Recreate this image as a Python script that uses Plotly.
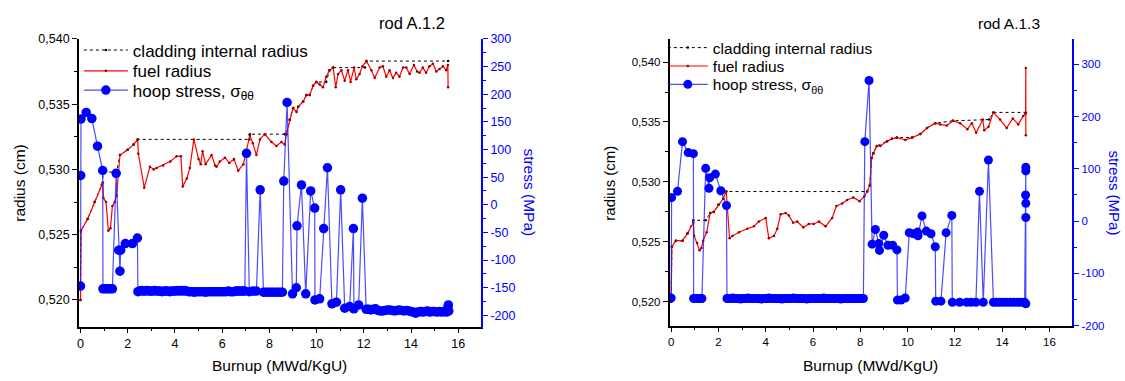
import plotly.graph_objects as go

# ---------------- DATA: rod A.1.2 (left) ----------------
a12_fuel_burnup = [0.00, 0.02, 0.30, 0.60, 0.95, 0.97, 1.08, 1.18, 1.27, 1.35, 1.45, 1.53, 1.67, 2.00, 2.25, 2.42,
                   2.45, 2.70, 2.94, 3.10, 3.22, 3.50, 3.80, 4.07, 4.25, 4.33, 4.50, 4.63, 4.80, 5.00, 5.09, 5.17,
                   5.30, 5.55, 5.70, 5.76, 5.90, 6.12, 6.30, 6.50, 6.68, 6.90, 7.03, 7.17, 7.30, 7.45, 7.60, 7.80,
                   8.09, 8.30, 8.51, 8.65, 8.72, 8.86, 9.00, 9.15, 9.22, 9.43, 9.57, 9.71, 9.85, 9.99, 10.13, 10.27,
                   10.41, 10.55, 10.70, 10.81, 10.91, 11.05, 11.19, 11.33, 11.44, 11.59, 11.68, 11.82, 11.94, 12.11,
                   12.32, 12.46, 12.67, 12.81, 12.95, 13.09, 13.23, 13.37, 13.51, 13.66, 13.80, 13.94, 14.12, 14.26,
                   14.36, 14.50, 14.64, 14.78, 14.93, 15.07, 15.21, 15.35, 15.49, 15.56, 15.57]
a12_fuel_radius = [0.5200, 0.5253, 0.5262, 0.5275, 0.5290, 0.5278, 0.5275, 0.5253, 0.5255, 0.5272, 0.5275, 0.5280,
                   0.5311, 0.5315, 0.5319, 0.5323, 0.5312, 0.5286, 0.5302, 0.5300, 0.5301, 0.5303, 0.5306, 0.5310,
                   0.5310, 0.5287, 0.5293, 0.5301, 0.5323, 0.5308, 0.5304, 0.5314, 0.5304, 0.5311, 0.5303, 0.5302,
                   0.5306, 0.5309, 0.5305, 0.5308, 0.5299, 0.5304, 0.5314, 0.5326, 0.5320, 0.5311, 0.5323, 0.5327,
                   0.5321, 0.5318, 0.5321, 0.5319, 0.5327, 0.5338, 0.5347, 0.5344, 0.5348, 0.5352, 0.5357, 0.5357,
                   0.5364, 0.5367, 0.5365, 0.5363, 0.5371, 0.5376, 0.5378, 0.5363, 0.5373, 0.5376, 0.5368, 0.5376,
                   0.5367, 0.5378, 0.5369, 0.5373, 0.5379, 0.5383, 0.5376, 0.5370, 0.5378, 0.5379, 0.5371, 0.5376,
                   0.5370, 0.5374, 0.5371, 0.5378, 0.5378, 0.5373, 0.5380, 0.5375, 0.5374, 0.5378, 0.5374, 0.5379,
                   0.5381, 0.5375, 0.5377, 0.5379, 0.5376, 0.5380, 0.5363]

a12_clad_burnup = [0.00, 0.02, 0.30, 0.60, 0.90, 0.97, 1.53, 1.67, 2.00, 2.25, 2.42, 7.15, 7.17, 8.65, 8.72, 8.86,
                   9.00, 9.22, 9.43, 9.57, 9.71, 9.85, 9.99, 10.41, 10.55, 10.70, 12.05, 12.11, 15.57]
a12_clad_radius = [0.5200, 0.5253, 0.5262, 0.5275, 0.5288, 0.5298, 0.5298, 0.5311, 0.5315, 0.5319, 0.5323, 0.5323,
                   0.5327, 0.5327, 0.5327, 0.5338, 0.5347, 0.5348, 0.5352, 0.5357, 0.5357, 0.5364, 0.5367, 0.5367,
                   0.5376, 0.5378, 0.5378, 0.5383, 0.5383]

a12_stress_burnup = [0.00, 0.01, 0.02, 0.24, 0.48, 0.72, 0.94, 0.95, 1.05, 1.15, 1.25, 1.35, 1.51, 1.62, 1.67, 1.70,
                     1.90, 2.20, 2.41, 2.43,
                     2.50, 2.58, 2.66, 2.74, 2.82, 2.90, 2.98, 3.06, 3.14, 3.22, 3.30, 3.38, 3.46, 3.54, 3.62, 3.70,
                     3.78, 3.86, 3.94, 4.02, 4.10, 4.18, 4.26, 4.34, 4.42, 4.50, 4.58, 4.66, 4.74, 4.82, 4.90, 4.98,
                     5.06, 5.14, 5.22, 5.30, 5.38, 5.46, 5.54, 5.62, 5.70, 5.78, 5.86, 5.94, 6.02, 6.10, 6.18, 6.26,
                     6.34, 6.42, 6.50, 6.58, 6.66, 6.74, 6.82, 6.90, 6.96,
                     7.03, 7.15, 7.30, 7.45, 7.61, 7.75, 7.85, 7.95, 8.05, 8.15, 8.25, 8.35, 8.45, 8.55, 8.61, 8.75,
                     8.98, 9.14, 9.17, 9.36, 9.54, 9.75, 9.92, 9.93, 10.13, 10.30, 10.46, 10.65, 10.84, 11.02, 11.19,
                     11.40, 11.56, 11.58, 11.78, 11.94, 12.10,
                     12.20, 12.30, 12.40, 12.50, 12.60, 12.70, 12.80, 12.90, 13.00, 13.10, 13.20, 13.30, 13.40, 13.50,
                     13.60, 13.70, 13.80, 13.90, 14.00, 14.10, 14.20, 14.30, 14.40, 14.50, 14.60, 14.70, 14.80, 14.90,
                     15.00, 15.10, 15.20, 15.30, 15.40, 15.50, 15.56, 15.58, 15.60]
a12_stress = [-147, 53, 155, 167, 156, 106, 62, -152, -152, -152, -152, -152, 57, -82, -120, -82,
              -70, -70, -60, -157,
              -156, -155, -156, -156, -155, -156, -156, -156, -155, -156, -156, -156, -157, -156, -156, -156,
              -157, -156, -156, -156, -155, -156, -155, -156, -155, -156, -157, -157, -157, -158, -157, -157,
              -157, -157, -157, -158, -157, -157, -157, -157, -157, -157, -157, -157, -157, -157, -157, -156,
              -157, -157, -157, -156, -156, -156, -156, -156, -156,
              93, -157, -156, -156, 27, -158, -158, -158, -158, -158, -158, -158, -158, -158, 43, 185,
              -161, -150, -38, 36, -161, 25, -6, -172, -170, -43, 67, -179, -176, 27, -187,
              -184, -43, -188, -181, 12, -189,
              -189, -190, -189, -188, -191, -192, -192, -191, -190, -190, -191, -192, -191, -190,
              -191, -192, -191, -192, -193, -194, -196, -194, -193, -194, -193, -192, -194, -193,
              -193, -194, -193, -194, -193, -194, -186, -181, -192]

# ---------------- DATA: rod A.1.3 (right) ----------------
a13_fuel_burnup = [0.00, 0.03, 0.20, 0.48, 0.69, 0.94, 0.97, 1.10, 1.20, 1.28, 1.35, 1.50, 1.65, 1.80, 2.00, 2.20,
                   2.33, 2.38, 2.47, 2.59, 2.87, 3.22, 3.50, 3.71, 4.00, 4.13, 4.35, 4.49, 4.63, 4.84, 4.98, 5.16,
                   5.33, 5.59, 5.82, 6.03, 6.25, 6.53, 6.81, 6.99, 7.23, 7.44, 7.70, 7.97, 8.17, 8.29, 8.40, 8.48,
                   8.55, 8.70, 8.85, 9.13, 9.34, 9.55, 9.90, 10.19, 10.54, 10.82, 11.17, 11.38, 11.66, 11.92, 12.22,
                   12.53, 12.72, 12.90, 13.18, 13.24, 13.42, 13.63, 13.91, 14.19, 14.45, 14.68, 14.89, 14.99, 15.00,
                   15.00]
a13_fuel_radius = [0.5200, 0.5246, 0.5251, 0.5251, 0.5257, 0.5266, 0.5255, 0.5249, 0.5243, 0.5245, 0.5251, 0.5258,
                   0.5274, 0.5275, 0.5281, 0.5286, 0.5292, 0.5278, 0.5253, 0.5255, 0.5258, 0.5261, 0.5263, 0.5267,
                   0.5270, 0.5253, 0.5255, 0.5261, 0.5273, 0.5274, 0.5272, 0.5266, 0.5267, 0.5262, 0.5265, 0.5265,
                   0.5267, 0.5263, 0.5270, 0.5280, 0.5282, 0.5285, 0.5287, 0.5284, 0.5288, 0.5292, 0.5297, 0.5320,
                   0.5324, 0.5330, 0.5330, 0.5334, 0.5336, 0.5337, 0.5335, 0.5337, 0.5340, 0.5345, 0.5349, 0.5348,
                   0.5347, 0.5351, 0.5349, 0.5344, 0.5349, 0.5341, 0.5352, 0.5343, 0.5346, 0.5358, 0.5352, 0.5345,
                   0.5353, 0.5348, 0.5355, 0.5357, 0.5395, 0.5339]

a13_clad_burnup = [0.00, 0.03, 0.20, 0.48, 0.69, 0.94, 1.46, 1.65, 1.80, 2.00, 2.20, 2.33, 8.29, 8.40, 8.48, 8.55,
                   8.70, 9.13, 9.34, 9.55, 10.19, 10.54, 10.82, 11.17, 11.92, 13.45, 13.63, 15.00]
a13_clad_radius = [0.5200, 0.5246, 0.5251, 0.5251, 0.5257, 0.5268, 0.5268, 0.5274, 0.5275, 0.5281, 0.5286, 0.5292,
                   0.5292, 0.5297, 0.5320, 0.5324, 0.5330, 0.5334, 0.5336, 0.5337, 0.5337, 0.5340, 0.5345, 0.5349,
                   0.5351, 0.5352, 0.5358, 0.5358]

a13_stress_burnup = [0.00, 0.02, 0.27, 0.48, 0.72, 0.94, 0.95, 1.05, 1.15, 1.25, 1.30, 1.46, 1.60, 1.63, 1.87, 2.10,
                     2.34, 2.36,
                     2.45, 2.53, 2.61, 2.69, 2.77, 2.85, 2.93, 3.01, 3.09, 3.17, 3.25, 3.33, 3.41, 3.49, 3.57, 3.65,
                     3.73, 3.81, 3.89, 3.97, 4.05, 4.13, 4.21, 4.29, 4.37, 4.45, 4.53, 4.61, 4.69, 4.77, 4.85, 4.93,
                     5.01, 5.09, 5.17, 5.25, 5.33, 5.41, 5.49, 5.57, 5.65, 5.73, 5.81, 5.89, 5.97, 6.05, 6.13, 6.21,
                     6.29, 6.37, 6.45, 6.53, 6.61, 6.69, 6.77, 6.85, 6.93, 7.01, 7.09, 7.17, 7.25, 7.33, 7.41, 7.49,
                     7.57, 7.65, 7.73, 7.81, 7.89, 7.97, 8.05, 8.13,
                     8.19, 8.37, 8.50, 8.64, 8.78, 8.81, 8.99, 9.17, 9.37, 9.55, 9.57, 9.72, 9.90, 10.07, 10.25,
                     10.42, 10.44, 10.61, 10.79, 10.99, 11.17, 11.19, 11.41, 11.63, 11.87, 11.89, 12.20, 12.50, 12.69,
                     12.89, 13.04, 13.20, 13.42, 13.63, 13.75, 13.90, 14.05, 14.20, 14.35, 14.50, 14.65, 14.80, 14.95,
                     14.99, 15.00, 15.00, 15.00, 15.00, 15.00]
a13_stress = [-147, 45, 57, 152, 131, 129, -148, -148, -148, -148, -148, 101, 63, 83, 90, 58,
              30, -148,
              -148, -148, -147, -148, -148, -148, -149, -148, -148, -148, -147, -148, -148, -148, -148, -148,
              -148, -149, -148, -148, -148, -147, -148, -148, -148, -148, -148, -148, -149, -148, -148, -148,
              -148, -148, -147, -148, -148, -148, -148, -148, -148, -149, -148, -148, -148, -148, -148, -148,
              -148, -148, -147, -148, -148, -148, -148, -148, -148, -148, -148, -149, -148, -148, -148, -148,
              -148, -148, -148, -148, -148, -148, -148, -148,
              152, 269, -44, -16, -43, -56, -27, -46, -46, -55, -151, -151, -147, -22, -24,
              -21, -28, 10, -19, -24, -49, -153, -153, -22, 11, -155, -155, -155, -155,
              -155, 57, -155, 117, -155, -155, -155, -155, -155, -155, -155, -155, -155, -155,
              50, 96, 103, 34, 7, -158]

# ---------------- TICKS ----------------
burnup_ticks = [0, 2, 4, 6, 8, 10, 12, 14, 16]
burnup_ticktext = ["0", "2", "4", "6", "8", "10", "12", "14", "16"]
radius_ticks = [0.520, 0.525, 0.530, 0.535, 0.540]
radius_ticktext = ["0,520", "0,525", "0,530", "0,535", "0,540"]
stress_ticks_a12 = [-200, -150, -100, -50, 0, 50, 100, 150, 200, 250, 300]
stress_ticktext_a12 = ["-200", "-150", "-100", "-50", "0", "50", "100", "150", "200", "250", "300"]
stress_ticks_a13 = [-200, -100, 0, 100, 200, 300]
stress_ticktext_a13 = ["-200", "-100", "0", "100", "200", "300"]

W, H = 1125, 381
FONT = "Liberation Sans, Arial, sans-serif"
BLUE = "rgb(0,0,255)"
BLUE_LINE = "rgba(30,30,255,0.8)"


def px_x(p):
    return p / W


def px_y(p):
    return 1 - p / H


fig = go.Figure()

# left panel traces
fig.add_trace(go.Scatter(x=a12_clad_burnup, y=a12_clad_radius, xaxis="x", yaxis="y",
                         mode="lines+markers", name="cladding internal radius",
                         line=dict(color="black", width=1, dash="dot"),
                         marker=dict(size=2.5, color="black"), legend="legend"))
fig.add_trace(go.Scatter(x=a12_fuel_burnup, y=a12_fuel_radius, xaxis="x", yaxis="y",
                         mode="lines+markers", name="fuel radius",
                         line=dict(color="red", width=1.2),
                         marker=dict(size=2.5, color="rgb(150,0,0)"), legend="legend2"))
fig.add_trace(go.Scatter(x=a12_stress_burnup, y=a12_stress, xaxis="x", yaxis="y2",
                         mode="lines+markers", name="hoop stress, σ<sub>θθ</sub>",
                         line=dict(color=BLUE_LINE, width=1.2),
                         marker=dict(size=9.5, color=BLUE), legend="legend3"))

# right panel traces
fig.add_trace(go.Scatter(x=a13_clad_burnup, y=a13_clad_radius, xaxis="x2", yaxis="y3",
                         mode="lines+markers", name="cladding internal radius",
                         line=dict(color="black", width=1, dash="dot"),
                         marker=dict(size=2.5, color="black"), legend="legend4"))
fig.add_trace(go.Scatter(x=a13_fuel_burnup, y=a13_fuel_radius, xaxis="x2", yaxis="y3",
                         mode="lines+markers", name="fuel radius",
                         line=dict(color="red", width=1.2),
                         marker=dict(size=2.5, color="rgb(150,0,0)"), legend="legend5"))
fig.add_trace(go.Scatter(x=a13_stress_burnup, y=a13_stress, xaxis="x2", yaxis="y4",
                         mode="lines+markers", name="hoop stress, σ<sub>θθ</sub>",
                         line=dict(color=BLUE_LINE, width=1.2),
                         marker=dict(size=9, color=BLUE), legend="legend6"))

L_dom_x = [px_x(77), px_x(480)]
L_dom_y = [px_y(331), px_y(33)]
R_dom_x = [px_x(668.7), px_x(1072.3)]
R_dom_y = [px_y(330), px_y(33)]
XR = [-0.07, 16.97]

tickf_l = dict(family=FONT, size=12.5, color="black")
tickf_r = dict(family=FONT, size=11.5, color="black")


def xaxis(domain, anchor, tf):
    return dict(domain=domain, anchor=anchor, range=XR, tickvals=burnup_ticks, ticktext=burnup_ticktext,
                ticks="outside", ticklen=5, tickwidth=1.2, tickcolor="black", showline=True,
                linecolor="black", linewidth=1.5, showgrid=False, zeroline=False, tickfont=tf,
                minor=dict(dtick=1, tick0=0, ticks="outside", ticklen=3, tickcolor="black", showgrid=False))


def topaxis(overlay, anchor):
    return dict(overlaying=overlay, anchor=anchor, side="top", range=XR, dtick=1, tick0=0,
                ticks="inside", ticklen=4, tickwidth=1.2, tickcolor="black", showticklabels=False,
                showline=True, linecolor="black", linewidth=1.5, showgrid=False, zeroline=False)


def legend_at(x_px, y_px, size, itemwidth):
    return dict(x=px_x(x_px), y=px_y(y_px), xanchor="left", yanchor="middle", bgcolor="rgba(0,0,0,0)",
                font=dict(family=FONT, size=size), itemwidth=itemwidth, tracegroupgap=0)


layout = dict(
    width=W, height=H, margin=dict(l=0, r=0, t=0, b=0),
    paper_bgcolor="white", plot_bgcolor="white",
    font=dict(family=FONT, color="black"),
    xaxis=xaxis(L_dom_x, "y", tickf_l),
    xaxis2=xaxis(R_dom_x, "y3", tickf_r),
    xaxis3=topaxis("x", "y"),
    xaxis4=topaxis("x2", "y3"),
    yaxis=dict(domain=L_dom_y, anchor="x", range=[0.51795, 0.540], tickvals=radius_ticks,
               ticktext=radius_ticktext, ticks="outside", ticklen=5, tickwidth=1.2, tickcolor="black",
               showline=True, linecolor="black", linewidth=1.5, showgrid=False, zeroline=False,
               tickfont=tickf_l,
               minor=dict(dtick=0.0025, tick0=0.52, ticks="outside", ticklen=3, tickcolor="black",
                          showgrid=False)),
    yaxis2=dict(overlaying="y", anchor="x", side="right", range=[-220.4, 300], tickvals=stress_ticks_a12,
                ticktext=stress_ticktext_a12, ticks="outside", ticklen=5, tickwidth=1.2, tickcolor=BLUE,
                showline=True, linecolor=BLUE, linewidth=1.5, showgrid=False, zeroline=False,
                tickfont=dict(family=FONT, size=12.5, color=BLUE),
                minor=dict(dtick=25, tick0=0, ticks="outside", ticklen=3, tickcolor=BLUE, showgrid=False)),
    yaxis3=dict(domain=R_dom_y, anchor="x2", range=[0.51801, 0.54193], tickvals=radius_ticks,
                ticktext=radius_ticktext, ticks="outside", ticklen=5, tickwidth=1.2, tickcolor="black",
                showline=True, linecolor="black", linewidth=1.5, showgrid=False, zeroline=False,
                tickfont=tickf_r,
                minor=dict(dtick=0.0025, tick0=0.52, ticks="outside", ticklen=3, tickcolor="black",
                           showgrid=False)),
    yaxis4=dict(overlaying="y3", anchor="x2", side="right", range=[-200, 348.5], tickvals=stress_ticks_a13,
                ticktext=stress_ticktext_a13, ticks="outside", ticklen=5, tickwidth=1.2, tickcolor=BLUE,
                showline=True, linecolor=BLUE, linewidth=1.5, showgrid=False, zeroline=False,
                tickfont=dict(family=FONT, size=11.5, color=BLUE),
                minor=dict(dtick=50, tick0=0, ticks="outside", ticklen=3, tickcolor=BLUE, showgrid=False)),
    legend=legend_at(77, 45, 17, 44),
    legend2=legend_at(77, 66.5, 17, 44),
    legend3=legend_at(77, 86.5, 17, 44),
    legend4=legend_at(662, 42.5, 15.5, 40),
    legend5=legend_at(662, 61.5, 15.5, 40),
    legend6=legend_at(662, 80.5, 15.5, 40),
    showlegend=True,
)
fig.update_layout(**layout)

annots = [
    dict(text="rod A.1.2", x=px_x(411), y=px_y(17), size=16.5, color="black", angle=0),
    dict(text="rod A.1.3", x=px_x(1008.7), y=px_y(17), size=15.5, color="black", angle=0),
    dict(text="Burnup (MWd/KgU)", x=px_x(278), y=px_y(371), size=15.5, color="black", angle=0),
    dict(text="Burnup (MWd/KgU)", x=px_x(870.5), y=px_y(371), size=15.5, color="black", angle=0),
    dict(text="radius (cm)", x=px_x(18), y=px_y(182), size=15.5, color="black", angle=-90),
    dict(text="radius (cm)", x=px_x(609), y=px_y(182), size=15, color="black", angle=-90),
    dict(text="stress (MPa)", x=px_x(528), y=px_y(192), size=15.5, color=BLUE, angle=90),
    dict(text="stress (MPa)", x=px_x(1115), y=px_y(192), size=15, color=BLUE, angle=90),
]
for a in annots:
    fig.add_annotation(text=a["text"], x=a["x"], y=a["y"], xref="paper", yref="paper",
                       xanchor="center", yanchor="middle", showarrow=False, textangle=a["angle"],
                       font=dict(family=FONT, size=a["size"], color=a["color"]))

fig.write_html("out.html")
